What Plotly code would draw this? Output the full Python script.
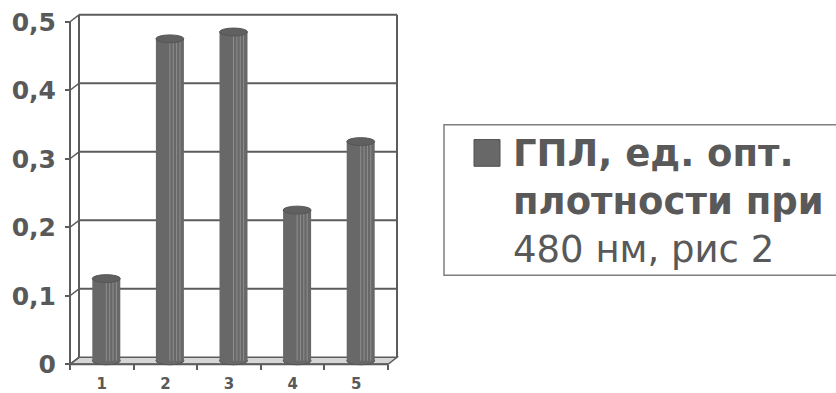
import plotly.graph_objects as go

# ---------------- data ----------------
categories = [1, 2, 3, 4, 5]
category_labels = ["1", "2", "3", "4", "5"]
values = [0.12, 0.47, 0.48, 0.22, 0.32]
series_name = "ГПЛ, ед. опт. плотности при 480 нм, рис 2"
ytick_vals = [0, 0.1, 0.2, 0.3, 0.4, 0.5]
ytick_text = ["0", "0,1", "0,2", "0,3", "0,4", "0,5"]

# ---------------- layout geometry ----------------
W, H = 836, 393
FRONT_X0, FRONT_Y0 = 70, 368          # pixel of front-plane origin (x=0.5, y=0)
PX_PER_CAT = 63.6
PX_PER_UNIT = 692.0
DEPTH_PX_X, DEPTH_PX_Y = 9, 7        # back wall offset (right, up)

DX = DEPTH_PX_X / PX_PER_CAT
DY = DEPTH_PX_Y / PX_PER_UNIT
x_range = [0.5 - FRONT_X0 / PX_PER_CAT, 0.5 + (W - FRONT_X0) / PX_PER_CAT]
y_range = [-(H - FRONT_Y0) / PX_PER_UNIT, FRONT_Y0 / PX_PER_UNIT]

BAR_W = 28 / PX_PER_CAT
ELL_H = 4 / PX_PER_UNIT

AX_COLOR = "#5c5c5c"
BAR_COLOR = "#686868"
TEXT_COLOR = "#595959"
FONT = "DejaVu Sans"

xmin_c, xmax_c = categories[0] - 0.5, categories[-1] + 0.5
ymax_v = ytick_vals[-1]

shapes = []
# floor
shapes.append(dict(type="path", layer="below", xref="x", yref="y",
                   path=f"M{xmin_c},0 L{xmax_c},0 L{xmax_c+DX},{DY} L{xmin_c+DX},{DY} Z",
                   fillcolor="#d6d6d6", line=dict(color=AX_COLOR, width=1.5)))
# back wall gridlines + side-wall diagonals
for v in ytick_vals:
    if v > 0:
        shapes.append(dict(type="line", layer="below", xref="x", yref="y",
                           x0=xmin_c + DX, x1=xmax_c + DX, y0=v + DY, y1=v + DY,
                           line=dict(color=AX_COLOR, width=2)))
    shapes.append(dict(type="line", layer="below", xref="x", yref="y",
                       x0=xmin_c, x1=xmin_c + DX, y0=v, y1=v + DY,
                       line=dict(color=AX_COLOR, width=1.5)))
# back wall left & right edges
for xe in (xmin_c + DX, xmax_c + DX):
    shapes.append(dict(type="line", layer="below", xref="x", yref="y",
                       x0=xe, x1=xe, y0=DY, y1=ymax_v + DY,
                       line=dict(color=AX_COLOR, width=2)))
# front value axis line
shapes.append(dict(type="line", layer="below", xref="x", yref="y",
                   x0=xmin_c, x1=xmin_c, y0=0, y1=ymax_v,
                   line=dict(color=AX_COLOR, width=2)))
# front category axis line
shapes.append(dict(type="line", layer="below", xref="x", yref="y",
                   x0=xmin_c, x1=xmax_c, y0=0, y1=0,
                   line=dict(color=AX_COLOR, width=2)))

# cylinders: bottom ellipses (below bar), top ellipses and stripes (above)
bar_x = [c + DX / 2 for c in categories]
for cx, v in zip(bar_x, values):
    base = DY / 2
    top = v + DY / 2
    shapes.append(dict(type="circle", layer="below", xref="x", yref="y",
                       x0=cx - BAR_W / 2, x1=cx + BAR_W / 2, y0=base - ELL_H, y1=base + ELL_H,
                       fillcolor=BAR_COLOR, line=dict(color="#555555", width=1)))
    for f in (0.0, 0.12, 0.24, 0.36):
        shapes.append(dict(type="line", layer="above", xref="x", yref="y",
                           x0=cx + f * BAR_W, x1=cx + f * BAR_W, y0=base, y1=top,
                           line=dict(color="#8e8e8e", width=1)))
    shapes.append(dict(type="circle", layer="above", xref="x", yref="y",
                       x0=cx - BAR_W / 2, x1=cx + BAR_W / 2, y0=top - ELL_H, y1=top + ELL_H,
                       fillcolor="#606060", line=dict(color="#555555", width=1)))

# legend (manual, to match large symbol)
LEG_L, LEG_T, LEG_B = 444, 126, 278
shapes.append(dict(type="rect", xref="paper", yref="paper", layer="above",
                   x0=LEG_L / W, x1=(W + 5) / W, y0=1 - LEG_B / H, y1=1 - LEG_T / H,
                   fillcolor="rgba(0,0,0,0)", line=dict(color="#7f7f7f", width=1.5)))
shapes.append(dict(type="rect", xref="paper", yref="paper", layer="above",
                   x0=474 / W, x1=500 / W, y0=1 - 168 / H, y1=1 - 141 / H,
                   fillcolor=BAR_COLOR, line=dict(color="#505050", width=1)))

name_parts = series_name.split(" ")
legend_text = ("<b>" + " ".join(name_parts[:3]) + "<br>" + " ".join(name_parts[3:5]) +
               "</b><br>" + " ".join(name_parts[5:]))

fig = go.Figure()
fig.add_trace(go.Bar(x=bar_x, y=values, base=DY / 2, width=BAR_W,
                     marker=dict(color=BAR_COLOR, line=dict(width=0)),
                     name=series_name, showlegend=False, hoverinfo="skip"))

fig.update_layout(
    width=W, height=H, margin=dict(l=0, r=0, t=0, b=0, pad=0),
    paper_bgcolor="white", plot_bgcolor="white",
    showlegend=False, shapes=shapes,
    font=dict(family=FONT, color=TEXT_COLOR),
    xaxis=dict(range=x_range, anchor="free", position=(H - FRONT_Y0) / H,
               tickmode="array", tickvals=categories, ticktext=category_labels,
               ticks="", showline=False, showgrid=False, zeroline=False,
               tickfont=dict(family=FONT, size=15, color=TEXT_COLOR, weight="bold"),
               ticklabelstandoff=9,
               minor=dict(tickvals=[c - 0.5 for c in categories] + [categories[-1] + 0.5],
                          ticks="outside", ticklen=5, tickwidth=1.5, tickcolor=AX_COLOR, showgrid=False)),
    yaxis=dict(range=y_range, anchor="free", position=FRONT_X0 / W, side="left",
               tickmode="array", tickvals=ytick_vals, ticktext=ytick_text,
               ticks="outside", ticklen=5, tickwidth=1.5, tickcolor=AX_COLOR,
               showline=False, showgrid=False, zeroline=False,
               tickfont=dict(family=FONT, size=25, color=TEXT_COLOR, weight="bold"),
               ticklabelstandoff=4),
    annotations=[dict(xref="paper", yref="paper", x=511 / W, y=1 - 204 / H,
                      xanchor="left", yanchor="middle", align="left", showarrow=False,
                      text=legend_text,
                      font=dict(family=FONT, size=37, color=TEXT_COLOR))],
)

fig.write_html("out.html")
